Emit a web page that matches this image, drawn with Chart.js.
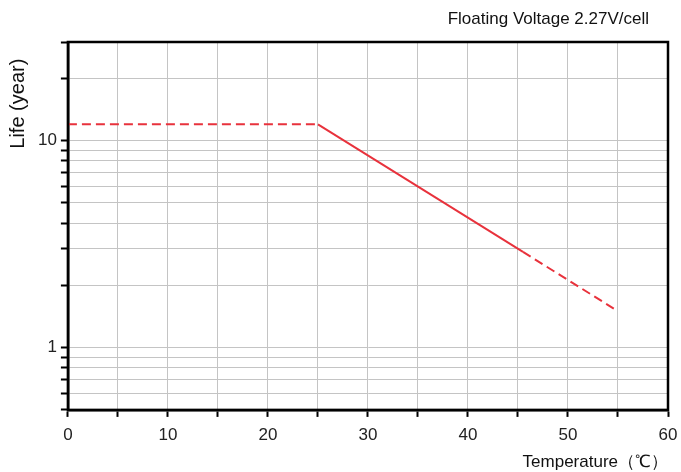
<!DOCTYPE html>
<html lang="en">
<head>
  <meta charset="UTF-8" />
  <title>Life vs Temperature</title>
  <script src="https://cdn.jsdelivr.net/npm/chart.js@4.4.1/dist/chart.umd.min.js"></script>
  <style>
    body { margin: 0; background: #fff; }
    #wrap { position: relative; width: 681px; height: 472px; }
    #topNote {
      position: absolute; right: 32px; top: 9px;
      font-family: 'Liberation Sans', Arial, sans-serif;
      font-size: 17px; color: #111;
    }
  </style>
</head>
<body>
  <div id="wrap">
    <div id="topNote">Floating Voltage 2.27V/cell</div>
    <canvas id="lifeChart" width="681" height="472"></canvas>
  </div>
  <script>
    // Data
    const solidPts = [[25, 12], [45.5, 2.9]];
    const dashLeft = [[0, 12], [25, 12]];
    const dashRight = [[45.5, 2.9], [55, 1.5]];
    const yGrid = [0.5, 0.6, 0.7, 0.8, 0.9, 1, 2, 3, 4, 5, 6, 7, 8, 9, 10, 20, 30];
    const yLabels = [1, 10];
    const xLabels = [0, 10, 20, 30, 40, 50, 60];

    const FONT = "'Liberation Sans', Arial, sans-serif";
    const RED = '#e8323c';

    const toXY = arr => arr.map(p => ({ x: p[0], y: p[1] }));

    // thick frame around the plot area
    const framePlugin = {
      id: 'frame',
      afterDraw(chart) {
        const a = chart.chartArea, c = chart.ctx;
        c.save();
        c.strokeStyle = '#000';
        c.lineWidth = 2.5;
        c.strokeRect(a.left, a.top, a.right - a.left, a.bottom - a.top);
        c.restore();
      }
    };

    new Chart(document.getElementById('lifeChart'), {
      type: 'line',
      data: {
        datasets: [
          { data: toXY(dashLeft), borderColor: RED, borderWidth: 2, borderDash: [9, 5], pointRadius: 0 },
          { data: toXY(solidPts), borderColor: RED, borderWidth: 2, pointRadius: 0 },
          { data: toXY(dashRight), borderColor: RED, borderWidth: 2, borderDash: [9, 5], pointRadius: 0 }
        ]
      },
      options: {
        responsive: false,
        animation: false,
        layout: { padding: { left: 6, right: 13, top: 42, bottom: 0 } },
        plugins: {
          legend: { display: false },
          tooltip: { enabled: false }
        },
        scales: {
          x: {
            type: 'linear',
            min: 0, max: 60,
            afterFit: s => { s.paddingRight = 0; },
            ticks: {
              stepSize: 5,
              color: '#222',
              font: { family: FONT, size: 17 },
              padding: 8,
              callback: v => xLabels.includes(v) ? String(v) : ''
            },
            grid: { color: '#c4c4c4', lineWidth: 1, tickColor: '#000', tickLength: 7, tickWidth: 2 },
            border: { color: '#000', width: 2.5 },
            title: {
              display: true,
              text: 'Temperature（℃）',
              align: 'end',
              color: '#111',
              font: { family: FONT, size: 17, lineHeight: 1.1 },
              padding: { top: 0, bottom: 0 }
            }
          },
          y: {
            type: 'logarithmic',
            min: 0.5, max: 30,
            afterBuildTicks: s => { s.ticks = yGrid.map(v => ({ value: v })); },
            ticks: {
              autoSkip: false,
              color: '#222',
              font: { family: FONT, size: 17 },
              padding: 4,
              callback: v => yLabels.includes(v) ? String(v) : ''
            },
            grid: { color: '#c4c4c4', lineWidth: 1, tickColor: '#000', tickLength: 7, tickWidth: 2 },
            border: { color: '#000', width: 2.5 },
            title: {
              display: true,
              text: 'Life (year)   ',
              align: 'end',
              color: '#111',
              font: { family: FONT, size: 20 },
              padding: { top: 0, bottom: 4 }
            }
          }
        }
      },
      plugins: [framePlugin]
    });
  </script>
</body>
</html>
